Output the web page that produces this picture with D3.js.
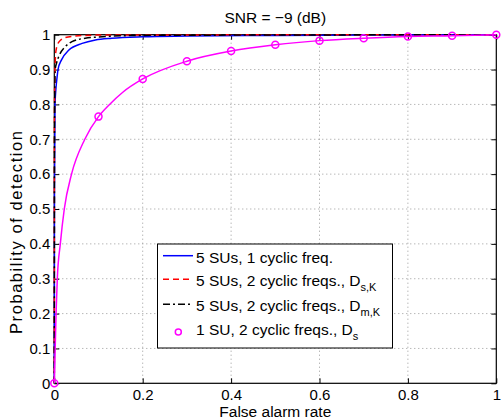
<!DOCTYPE html>
<html><head><meta charset="utf-8">
<script src="https://cdn.jsdelivr.net/npm/d3@7"></script>
<style>
html,body{margin:0;padding:0;background:#fff;}
svg{display:block;font-family:"Liberation Sans",Arial,Helvetica,sans-serif;}
</style></head>
<body>
<svg id="chart" width="502" height="419"></svg>
<script>
// ---- data ----
const title = "SNR = \u22129 (dB)";
const xLabel = "False alarm rate";
const yLabel = "Probability of detection";
const xTicks = [0, 0.2, 0.4, 0.6, 0.8, 1];
const yTicks = [0, 0.1, 0.2, 0.3, 0.4, 0.5, 0.6, 0.7, 0.8, 0.9, 1];

const blueX = [0, 0.0004, 0.0016, 0.004, 0.006, 0.0084, 0.016, 0.033, 0.063, 0.093, 0.13, 0.2, 0.3, 0.5, 0.7, 1];
const blueY = [0, 0.55, 0.8, 0.85, 0.875, 0.9, 0.927, 0.956, 0.975, 0.985, 0.99, 0.994, 0.996, 0.998, 0.999, 1];

const redX = [0, 0.0003, 0.0015, 0.004, 0.011, 0.025, 0.047, 0.1, 1];
const redY = [0, 0.75, 0.9, 0.956, 0.98, 0.992, 0.996, 0.999, 1];

const blackX = [0, 0.0004, 0.002, 0.005, 0.011, 0.025, 0.04, 0.07, 0.108, 0.2, 1];
const blackY = [0, 0.7, 0.9, 0.918, 0.94, 0.966, 0.98, 0.99, 0.994, 0.998, 1];

const magX = [0, 0.002, 0.004, 0.0068, 0.0136, 0.0226, 0.039, 0.069, 0.1, 0.125, 0.155, 0.2, 0.3, 0.4, 0.5, 0.6, 0.7, 0.8, 0.9, 1];
const magY = [0, 0.1, 0.2, 0.3, 0.4, 0.5, 0.6, 0.7, 0.765, 0.8, 0.835, 0.873, 0.924, 0.953, 0.971, 0.983, 0.99, 0.995, 0.997, 1];
const magMarkerX = [0, 0.1, 0.2, 0.3, 0.4, 0.5, 0.6, 0.7, 0.8, 0.9, 1];
const magMarkerY = [0, 0.765, 0.873, 0.924, 0.953, 0.971, 0.983, 0.99, 0.995, 0.997, 1];

const legendMain = ["5 SUs, 1 cyclic freq.", "5 SUs, 2 cyclic freqs., D", "5 SUs, 2 cyclic freqs., D", "1 SU, 2 cyclic freqs., D"];
const legendSub = ["", "s,K", "m,K", "s"];

// ---- drawing ----
const svg = d3.select("#chart");
const L = 54.3, R = 496.3, T = 34.7, B = 383.3;
const x = d3.scaleLinear().domain([0, 1]).range([L, R]);
const y = d3.scaleLinear().domain([0, 1]).range([B, T]);
const fs = 15.5, tfs = 15;

// grid
const grid = svg.append("g");
xTicks.slice(1, -1).forEach(t => {
  grid.append("line").attr("x1", x(t)).attr("x2", x(t)).attr("y1", T).attr("y2", B)
    .attr("stroke", "#999").attr("stroke-dasharray", "1,3").attr("stroke-width", 1);
});
yTicks.slice(1, -1).forEach(t => {
  grid.append("line").attr("x1", L).attr("x2", R).attr("y1", y(t)).attr("y2", y(t))
    .attr("stroke", "#999").attr("stroke-dasharray", "1,3").attr("stroke-width", 1);
});

// axes via d3 axes (inward ticks)
const fmt = d => d === 0 ? "0" : d === 1 ? "1" : d3.format(".1f")(d);
const xAxisB = d3.axisBottom(x).tickValues(xTicks).tickFormat(fmt).tickSizeInner(-5).tickSizeOuter(0).tickPadding(6);
const xAxisT = d3.axisTop(x).tickValues(xTicks).tickFormat("").tickSizeInner(-5).tickSizeOuter(0);
const yAxisL = d3.axisLeft(y).tickValues(yTicks).tickFormat(fmt).tickSizeInner(-5).tickSizeOuter(0).tickPadding(4);
const yAxisR = d3.axisRight(y).tickValues(yTicks).tickFormat("").tickSizeInner(-5).tickSizeOuter(0);

function styleAxis(g) {
  g.selectAll("path").remove();
  g.selectAll("line").attr("stroke", "#000");
  g.selectAll("text").attr("font-size", tfs).attr("fill", "#000").attr("font-family", "Liberation Sans, Arial, sans-serif");
}
svg.append("g").attr("transform", `translate(0,${B})`).call(xAxisB).call(styleAxis);
svg.append("g").attr("transform", `translate(0,${T})`).call(xAxisT).call(styleAxis);
svg.append("g").attr("transform", `translate(${L},0)`).call(yAxisL).call(styleAxis);
svg.append("g").attr("transform", `translate(${R},0)`).call(yAxisR).call(styleAxis);

// box (drawn under the curves)
svg.append("rect").attr("x", L).attr("y", T).attr("width", R - L).attr("height", B - T)
  .attr("fill", "none").attr("stroke", "#000").attr("stroke-width", 1.2);

// lines
const line = d3.line().x(d => x(d[0])).y(d => y(d[1])).curve(d3.curveMonotoneX);
const zip = (a, b) => a.map((v, i) => [v, b[i]]);
const curves = [
  {d: zip(blueX, blueY), c: "#0000ff", dash: null},
  {d: zip(redX, redY), c: "#ff0000", dash: "6,4"},
  {d: zip(blackX, blackY), c: "#000000", dash: "7,3,2,3"},
  {d: zip(magX, magY), c: "#ff00ff", dash: null}
];
curves.forEach(cv => {
  svg.append("path").datum(cv.d).attr("d", line).attr("fill", "none")
    .attr("stroke", cv.c).attr("stroke-width", 1.5)
    .attr("stroke-dasharray", cv.dash);
});
svg.append("g").selectAll("circle").data(zip(magMarkerX, magMarkerY)).join("circle")
  .attr("cx", d => x(d[0])).attr("cy", d => y(d[1])).attr("r", 3.5)
  .attr("fill", "none").attr("stroke", "#ff00ff").attr("stroke-width", 1.5);

// labels
svg.append("text").attr("x", (L + R) / 2).attr("y", 23).attr("text-anchor", "middle")
  .attr("font-size", fs).text(title);
svg.append("text").attr("x", (L + R) / 2).attr("y", 417).attr("text-anchor", "middle")
  .attr("font-size", fs).text(xLabel);
svg.append("text").attr("transform", "translate(21.5,232.5) rotate(-90)").attr("text-anchor", "middle")
  .attr("font-size", 16.5).attr("textLength", 203).attr("lengthAdjust", "spacing").text(yLabel);

// legend
const lg = svg.append("g");
lg.append("rect").attr("x", 157.5).attr("y", 244).attr("width", 235).attr("height", 104)
  .attr("fill", "#fff").attr("stroke", "#000").attr("stroke-width", 1);
const baselines = [263, 286, 310.5, 335];
const sampleY = [255.7, 279.3, 304.3, 332];
legendMain.forEach((txt, i) => {
  const cv = curves[i];
  if (i < 3) {
    lg.append("line").attr("x1", 163).attr("x2", 193).attr("y1", sampleY[i]).attr("y2", sampleY[i])
      .attr("stroke", cv.c).attr("stroke-width", 1.5).attr("stroke-dasharray", cv.dash);
  } else {
    lg.append("circle").attr("cx", 178.3).attr("cy", sampleY[i]).attr("r", 3)
      .attr("fill", "none").attr("stroke", "#ff00ff").attr("stroke-width", 1.5);
  }
  const t = lg.append("text").attr("x", 196).attr("y", baselines[i]).attr("font-size", fs);
  t.append("tspan").text(txt);
  if (legendSub[i]) t.append("tspan").attr("dy", 5).attr("font-size", 11).text(legendSub[i]);
});
</script>
</body></html>
